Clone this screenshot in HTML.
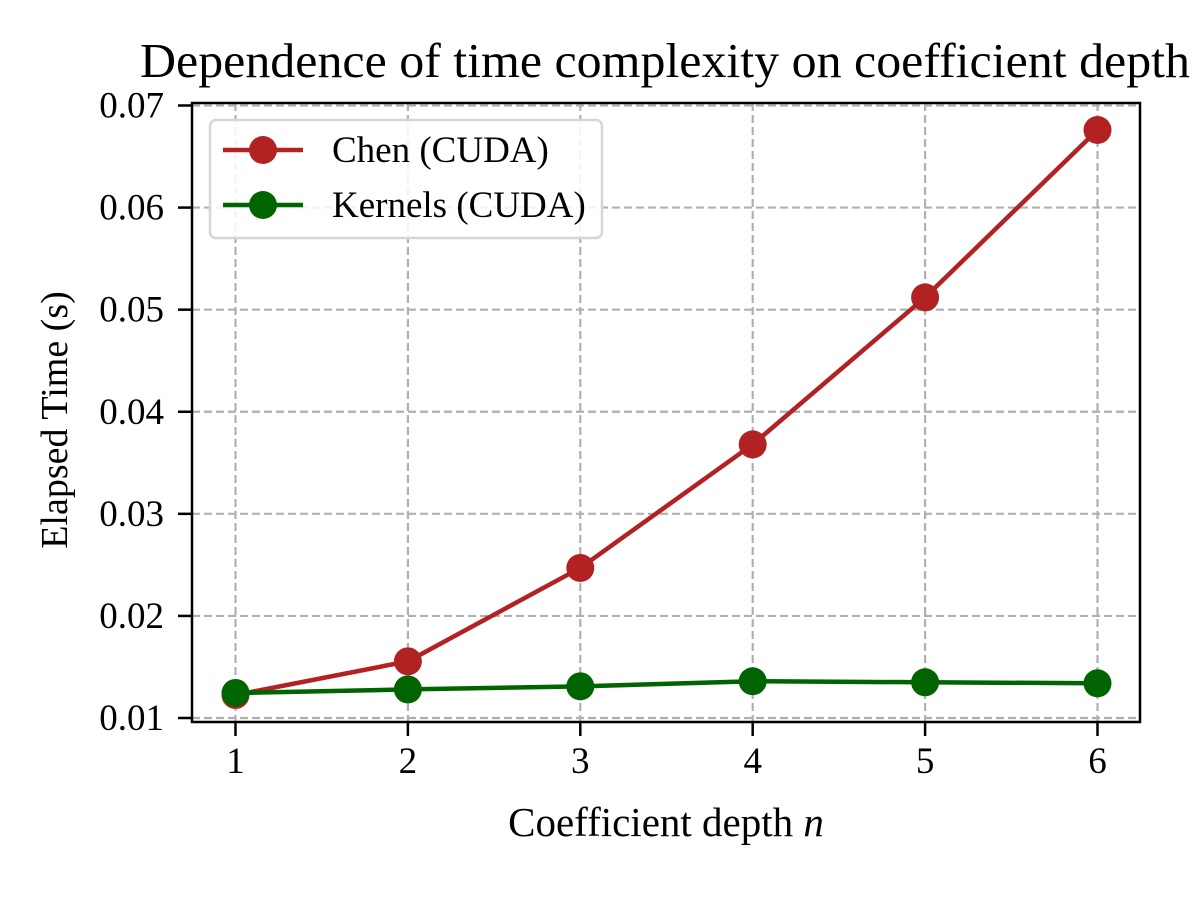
<!DOCTYPE html>
<html><head><meta charset="utf-8"><style>
body{margin:0;background:#fff}
svg text{font-family:"Liberation Serif",serif;fill:#000}
</style></head><body>
<svg width="1200" height="900" xmlns="http://www.w3.org/2000/svg">
<rect width="1200" height="900" fill="#fff"/>
<g id="grid"></g>
<g id="series"></g>
<rect x="192" y="103" width="948" height="619" fill="none" stroke="#000" stroke-width="2.5"/>
<g id="ticks"></g>
<text x="665" y="77" text-anchor="middle" textLength="1050" lengthAdjust="spacingAndGlyphs" style="font-size:49px">Dependence of time complexity on coefficient depth</text>
<text x="666" y="836" font-size="41" text-anchor="middle">Coefficient depth <tspan font-style="italic">n</tspan></text>
<text transform="translate(67,420) rotate(-90)" font-size="38" text-anchor="middle">Elapsed Time (s)</text>
<g>
<rect x="210" y="120" width="392" height="118" rx="6" fill="#fff" fill-opacity="0.85" stroke="#d6d6d6" stroke-width="2.5"/>
<line x1="223" y1="150" x2="303" y2="150" stroke="#b22222" stroke-width="4.5"/>
<circle cx="263" cy="150" r="14" fill="#b22222"/>
<text x="332" y="162" font-size="37">Chen (CUDA)</text>
<line x1="223" y1="205" x2="303" y2="205" stroke="#006400" stroke-width="4.5"/>
<circle cx="263" cy="205" r="14" fill="#006400"/>
<text x="332" y="217" font-size="37">Kernels (CUDA)</text>
</g>
</svg>
<script>
const depths=[1,2,3,4,5,6];
const chenTimes=[0.01225,0.01555,0.0247,0.0368,0.0512,0.0676];
const kernelTimes=[0.01245,0.0128,0.0131,0.0136,0.0135,0.0134];
const yTicks=[0.01,0.02,0.03,0.04,0.05,0.06,0.07];
const yTickLabels=["0.01","0.02","0.03","0.04","0.05","0.06","0.07"];
const xTicks=[1,2,3,4,5,6];
const NS="http://www.w3.org/2000/svg";
function xs(v){return 235.5+(v-1)*(1097.5-235.5)/5;}
function ys(v){return 718-(v-0.01)*(718-105.5)/0.06;}
function mk(t,a,p){const e=document.createElementNS(NS,t);for(const k in a)e.setAttribute(k,a[k]);p.appendChild(e);return e;}
const grid=document.getElementById('grid'),ticks=document.getElementById('ticks'),ser=document.getElementById('series');
xTicks.forEach(v=>{
 const x=xs(v);
 const g=mk('line',{x1:x,y1:103,x2:x,y2:722,stroke:'#b0b0b0','stroke-width':2.2,'stroke-dasharray':'8,4'},grid);
 
 
 const t=mk('line',{x1:x,y1:722,x2:x,y2:736,stroke:'#000','stroke-width':2.5},ticks);
 
 
 const l=mk('text',{x:x,y:773,'font-size':37,'text-anchor':'middle'},ticks);
 l.textContent=String(v);
 
 
});
yTicks.forEach((v,i)=>{
 const y=ys(v);
 const g=mk('line',{x1:192,y1:y,x2:1140,y2:y,stroke:'#b0b0b0','stroke-width':2.2,'stroke-dasharray':'8,4'},grid);
 
 
 const t=mk('line',{x1:178,y1:y,x2:192,y2:y,stroke:'#000','stroke-width':2.5},ticks);
 
 
 const l=mk('text',{x:164,y:y+12,'font-size':37,'text-anchor':'end'},ticks);
 l.textContent=yTickLabels[i];
 
 
});
function drawSeries(vals,color,name){
 const pts=depths.map((d,i)=>xs(d)+','+ys(vals[i])).join(' ');
 const pl=mk('polyline',{points:pts,fill:'none',stroke:color,'stroke-width':4.5,'stroke-linejoin':'round'},ser);
 
 
 depths.forEach((d,i)=>{
  const c=mk('circle',{cx:xs(d),cy:ys(vals[i]),r:14,fill:color},ser);
  
  
 });
}
drawSeries(chenTimes,'#b22222','chen');
drawSeries(kernelTimes,'#006400','kernels');
</script>
</body></html>
